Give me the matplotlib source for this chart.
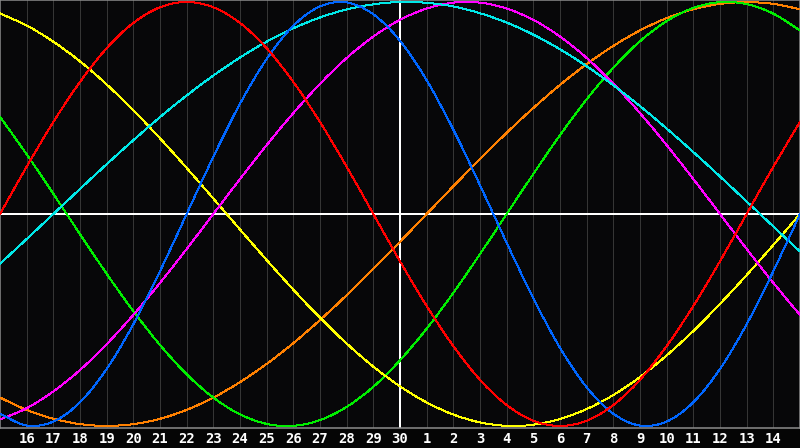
import matplotlib
matplotlib.use("Agg")
import matplotlib.pyplot as plt
from matplotlib.path import Path
from matplotlib.patches import PathPatch

# day positions (0..30) across the chart
days = list(range(31))
# tick labels at day positions 1..29
tick_labels = [str(v) for v in list(range(16, 31)) + list(range(1, 15))]
today_pos = 15

# curve values at each day position (+1 top, -1 bottom)
red = [0.0, 0.223, 0.434, 0.623, 0.782, 0.901, 0.975, 1.0, 0.975, 0.901, 0.782,
       0.623, 0.434, 0.223, 0.0, -0.223, -0.434, -0.623, -0.782, -0.901, -0.975,
       -1.0, -0.975, -0.901, -0.782, -0.623, -0.434, -0.223, 0.0, 0.223, 0.434]
blue = [-0.942, -0.998, -0.979, -0.888, -0.731, -0.520, -0.270, 0.0, 0.270, 0.520,
        0.731, 0.888, 0.979, 0.998, 0.942, 0.817, 0.631, 0.398, 0.136, -0.136,
        -0.398, -0.631, -0.817, -0.942, -0.998, -0.979, -0.888, -0.731, -0.520,
        -0.270, 0.0]
green = [0.458, 0.282, 0.095, -0.095, -0.282, -0.458, -0.618, -0.756, -0.866,
         -0.945, -0.990, -0.999, -0.972, -0.910, -0.815, -0.690, -0.541, -0.372,
         -0.189, 0.0, 0.189, 0.372, 0.541, 0.690, 0.815, 0.910, 0.972, 0.999,
         0.990, 0.945, 0.866]
magenta = [-0.969, -0.916, -0.837, -0.736, -0.614, -0.476, -0.325, -0.165, 0.0,
           0.165, 0.325, 0.476, 0.614, 0.736, 0.837, 0.916, 0.969, 0.997, 0.997,
           0.969, 0.916, 0.837, 0.736, 0.614, 0.476, 0.325, 0.165, 0.0, -0.165,
           -0.325, -0.476]
yellow = [0.946, 0.889, 0.813, 0.720, 0.611, 0.489, 0.357, 0.217, 0.073, -0.073,
          -0.217, -0.357, -0.489, -0.611, -0.720, -0.813, -0.889, -0.946, -0.983,
          -0.999, -0.994, -0.967, -0.920, -0.854, -0.769, -0.667, -0.552, -0.424,
          -0.288, -0.146, 0.0]
orange = [-0.866, -0.924, -0.966, -0.991, -1.0, -0.991, -0.966, -0.924, -0.866,
          -0.793, -0.707, -0.609, -0.500, -0.383, -0.259, -0.131, 0.0, 0.131,
          0.259, 0.383, 0.500, 0.609, 0.707, 0.793, 0.866, 0.924, 0.966, 0.991,
          1.0, 0.991, 0.966]
cyan = [-0.235, -0.118, 0.0, 0.118, 0.235, 0.348, 0.457, 0.559, 0.653, 0.738,
        0.813, 0.876, 0.927, 0.965, 0.989, 1.0, 0.996, 0.979, 0.947, 0.903, 0.846,
        0.777, 0.697, 0.607, 0.509, 0.403, 0.292, 0.177, 0.059, -0.059, -0.177]

series = [
    (orange, "#ff8000"),
    (green, "#00ee00"),
    (yellow, "#ffff00"),
    (magenta, "#ff00ff"),
    (cyan, "#00e8e8"),
    (blue, "#0066ff"),
    (red, "#ff0000"),
]


def smooth_path(xs, ys):
    """Smooth (Catmull-Rom style) Bezier path through the given points."""
    n = len(xs)
    verts = [(xs[0], ys[0])]
    codes = [Path.MOVETO]
    for i in range(n - 1):
        x0, y0 = (xs[i - 1], ys[i - 1]) if i > 0 else (xs[i], ys[i])
        x1, y1 = xs[i], ys[i]
        x2, y2 = xs[i + 1], ys[i + 1]
        x3, y3 = (xs[i + 2], ys[i + 2]) if i + 2 < n else (x2, y2)
        c1 = (x1 + (x2 - x0) / 6.0, y1 + (y2 - y0) / 6.0)
        c2 = (x2 - (x3 - x1) / 6.0, y2 - (y3 - y1) / 6.0)
        verts += [c1, c2, (x2, y2)]
        codes += [Path.CURVE4] * 3
    return Path(verts, codes)


W, H = 800, 448
fig = plt.figure(figsize=(W / 100, H / 100), dpi=100)
fig.patch.set_facecolor("#050505")
plot_h = 428
ax = fig.add_axes([0, (H - plot_h) / H, 1, plot_h / H])
ax.set_facecolor("#070709")

ax.set_xlim(0, 30)
lim = 214 / 212
ax.set_ylim(-lim, lim)

# day grid lines
for d in range(1, 30):
    if d == today_pos:
        continue
    ax.axvline(d, color="#353535", lw=0.72, antialiased=False, zorder=1)

# centre line and today line
ax.axhline(0, color="#ffffff", lw=1.1, antialiased=False, zorder=2)
ax.axvline(today_pos, color="#ffffff", lw=1.1, antialiased=False, zorder=2)

for vals, col in series:
    patch = PathPatch(smooth_path(days, vals), facecolor="none", edgecolor=col,
                      lw=0.72, antialiased=False, zorder=3)
    ax.add_patch(patch)

for side in ["left", "top", "bottom", "right"]:
    ax.spines[side].set_color("#8c8c8c")
    ax.spines[side].set_linewidth(1.1)

ax.set_yticks([])
ax.set_xticks(range(1, 30))
ax.set_xticklabels(tick_labels, color="white", fontsize=10, fontweight="bold",
                   family="DejaVu Sans Mono")
ax.tick_params(axis="x", length=0, pad=3)

fig.savefig("out.png", dpi=100, facecolor=fig.get_facecolor())
